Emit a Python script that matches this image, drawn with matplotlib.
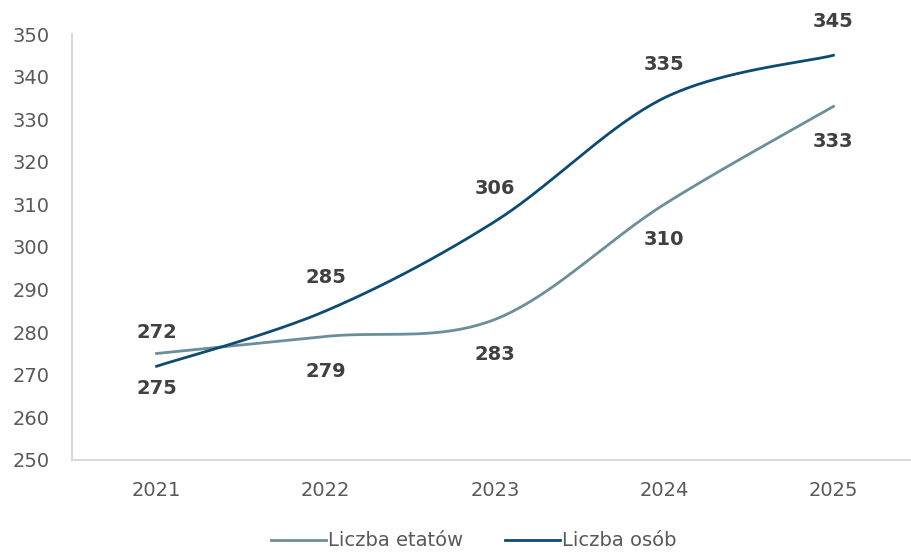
import numpy as np
import matplotlib
matplotlib.use('Agg')
import matplotlib.pyplot as plt

years = ['2021', '2022', '2023', '2024', '2025']
etaty = [275, 279, 283, 310, 333]
osoby = [272, 285, 306, 335, 345]

c_etaty = '#6B8F9A'
c_osoby = '#0D4B72'
txt = '#595959'
lab = '#404040'


def smooth(y, n=40):
    # excel-like smoothed line (bezier through points, tension 1/6)
    y = np.asarray(y, float)
    x = np.arange(len(y), dtype=float)
    P = np.column_stack([x, y])
    out = []
    for i in range(len(P) - 1):
        p0 = P[i - 1] if i > 0 else P[i]
        p3 = P[i + 2] if i + 2 < len(P) else P[i + 1]
        c1 = P[i] + (P[i + 1] - p0) / 6
        c2 = P[i + 1] - (p3 - P[i]) / 6
        t = np.linspace(0, 1, n)[:, None]
        seg = ((1 - t)**3 * P[i] + 3 * (1 - t)**2 * t * c1
               + 3 * (1 - t) * t**2 * c2 + t**3 * P[i + 1])
        out.append(seg if i == 0 else seg[1:])
    out = np.vstack(out)
    return out[:, 0], out[:, 1]


plt.rcParams['font.family'] = ['DejaVu Sans']
fig = plt.figure(figsize=(9.11, 5.52), dpi=100)
ax = fig.add_axes([0.079, 0.1667, 0.9287, 0.7717])

xs, ys = smooth(etaty)
ax.plot(xs, ys, color=c_etaty, lw=2, label='Liczba etatów')
xs, ys = smooth(osoby)
ax.plot(xs, ys, color=c_osoby, lw=2, label='Liczba osób')

for i in range(len(years)):
    ax.annotate(str(osoby[i]), (i, osoby[i]), xytext=(0, 24), textcoords='offset points',
                ha='center', va='center', fontsize=14, fontweight='bold', color=lab)
    ax.annotate(str(etaty[i]), (i, etaty[i]), xytext=(0, -25), textcoords='offset points',
                ha='center', va='center', fontsize=14, fontweight='bold', color=lab)

ax.set_xlim(-0.5, 4.5)
ax.set_ylim(250, 350)
ax.set_yticks(range(250, 351, 10))
ax.set_xticks(range(len(years)))
ax.set_xticklabels(years)
ax.tick_params(axis='both', length=0, labelsize=14, labelcolor=txt)
ax.tick_params(axis='x', pad=15)
ax.tick_params(axis='y', pad=16)
for s in ['top', 'right']:
    ax.spines[s].set_visible(False)
for s in ['left', 'bottom']:
    ax.spines[s].set_color('#D9D9D9')
    ax.spines[s].set_linewidth(1.5)

leg = fig.legend(loc='center', bbox_to_anchor=(0.52, 0.02), ncol=2, frameon=False,
                 fontsize=14, handlelength=2.8, handletextpad=0.1, columnspacing=2.2)
for t in leg.get_texts():
    t.set_color(txt)

fig.savefig('out.png', dpi=100)
